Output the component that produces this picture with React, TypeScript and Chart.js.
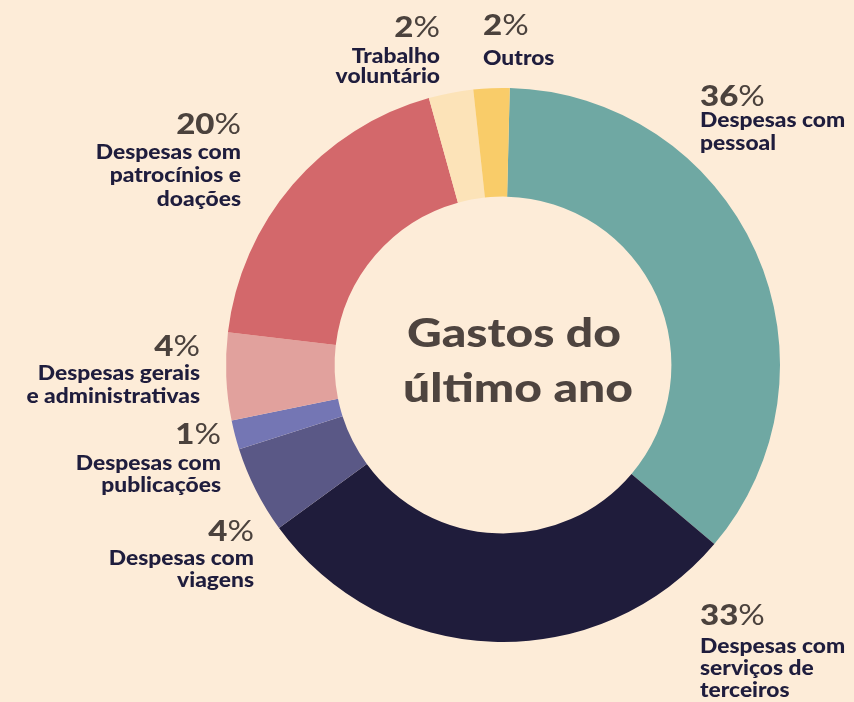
import { useEffect, useRef } from "react";
import { Chart, registerables } from "chart.js";

Chart.register(...registerables);

// ---- data ----
const categories = [
  "Despesas com pessoal",
  "Despesas com serviços de terceiros",
  "Despesas com viagens",
  "Despesas com publicações",
  "Despesas gerais e administrativas",
  "Despesas com patrocínios e doações",
  "Trabalho voluntário",
  "Outros",
];
// share of the ring as drawn in the picture
const arcShares = [35.8, 28.8, 5.1, 1.7, 5.1, 18.8, 2.6, 2.1];
// percentages printed next to each slice
const percentLabels = ["36", "33", "4", "1", "4", "20", "2", "2"];
const labelLines = [
  ["Despesas com", "pessoal"],
  ["Despesas com", "serviços de", "terceiros"],
  ["Despesas com", "viagens"],
  ["Despesas com", "publicações"],
  ["Despesas gerais", "e administrativas"],
  ["Despesas com", "patrocínios e", "doações"],
  ["Trabalho", "voluntário"],
  ["Outros"],
];
const centerTitle = ["Gastos do", "último ano"];

// ---- styles / layout ----
const sliceColors = [
  "#6fa8a3",
  "#1f1c3b",
  "#5a5886",
  "#7476b4",
  "#e1a19d",
  "#d3686b",
  "#fce3b8",
  "#f9cc69",
];
const BG = "#fdecd8";
const PCT_COLOR = "#4b423d";
const LABEL_COLOR = "#1f1d3d";
const FONT = "Lato, 'Open Sans', sans-serif";

type Layout = { x: number; pctY: number; lineYs: number[]; align: CanvasTextAlign };
const labelLayout: Layout[] = [
  { x: 700, pctY: 106, lineYs: [127, 150], align: "left" },
  { x: 700, pctY: 625, lineYs: [653, 675, 697], align: "left" },
  { x: 254, pctY: 541, lineYs: [565, 587], align: "right" },
  { x: 221, pctY: 444, lineYs: [470, 492], align: "right" },
  { x: 200, pctY: 356, lineYs: [380, 403], align: "right" },
  { x: 241, pctY: 134, lineYs: [159, 182, 206], align: "right" },
  { x: 440, pctY: 37, lineYs: [63, 83], align: "right" },
  { x: 483, pctY: 35, lineYs: [65], align: "left" },
];
const SX = 1.14; // horizontal text stretch for labels
const SX_CENTER = 1.2;

const labelPlugin = {
  id: "labels",
  beforeDraw(chart: any) {
    const ctx = chart.ctx;
    ctx.save();
    ctx.fillStyle = BG;
    ctx.fillRect(0, 0, chart.width, chart.height);
    ctx.restore();
  },
  afterDraw(chart: any) {
    const ctx: CanvasRenderingContext2D = chart.ctx;
    ctx.save();
    ctx.textBaseline = "alphabetic";
    const drawStretched = (
      text: string,
      x: number,
      y: number,
      align: CanvasTextAlign,
      sx: number = SX
    ) => {
      const w = ctx.measureText(text).width * sx;
      let left = x;
      if (align === "right") left = x - w;
      else if (align === "center") left = x - w / 2;
      ctx.save();
      ctx.translate(left, y);
      ctx.scale(sx, 1);
      ctx.textAlign = "left";
      ctx.fillText(text, 0, 0);
      ctx.restore();
      return w;
    };
    labelLayout.forEach((L, i) => {
      // percentage: bold digits + light %
      ctx.fillStyle = PCT_COLOR;
      ctx.font = `900 29px ${FONT}`;
      const digits = percentLabels[i];
      const dW = ctx.measureText(digits).width * SX;
      ctx.font = `400 29px ${FONT}`;
      const pW = ctx.measureText("%").width * SX;
      const total = dW + pW;
      const start = L.align === "right" ? L.x - total : L.x;
      ctx.font = `900 29px ${FONT}`;
      drawStretched(digits, start, L.pctY, "left");
      ctx.font = `400 29px ${FONT}`;
      drawStretched("%", start + dW, L.pctY, "left");
      // text lines
      ctx.fillStyle = LABEL_COLOR;
      ctx.font = `900 20px ${FONT}`;
      labelLines[i].forEach((line, j) => {
        drawStretched(line, L.x, L.lineYs[j], L.align);
      });
    });
    // center title
    ctx.fillStyle = "#4e443f";
    ctx.font = `900 40px ${FONT}`;
    drawStretched(centerTitle[0], 514, 347, "center", SX_CENTER);
    drawStretched(centerTitle[1], 518, 402, "center", SX_CENTER);
    ctx.restore();
  },
};

export default function App() {
  const ref = useRef<HTMLCanvasElement | null>(null);
  useEffect(() => {
    document.body.style.margin = "0";
    document.body.style.background = BG;
    if (!ref.current) return;
    const chart = new Chart(ref.current, {
      type: "doughnut",
      data: {
        labels: categories,
        datasets: [
          {
            data: arcShares,
            backgroundColor: sliceColors,
            borderWidth: 0,
          },
        ],
      },
      options: {
        animation: false,
        responsive: false,
        maintainAspectRatio: false,
        rotation: 1.4,
        cutout: "60.8%",
        layout: { padding: { top: 88, bottom: 60, left: 225, right: 73 } },
        plugins: {
          legend: { display: false },
          tooltip: { enabled: false },
        },
      },
      plugins: [labelPlugin],
    });
    return () => chart.destroy();
  }, []);
  return (
    <div style={{ width: 854, height: 702 }}>
      <canvas ref={ref} width={854} height={702} />
    </div>
  );
}
